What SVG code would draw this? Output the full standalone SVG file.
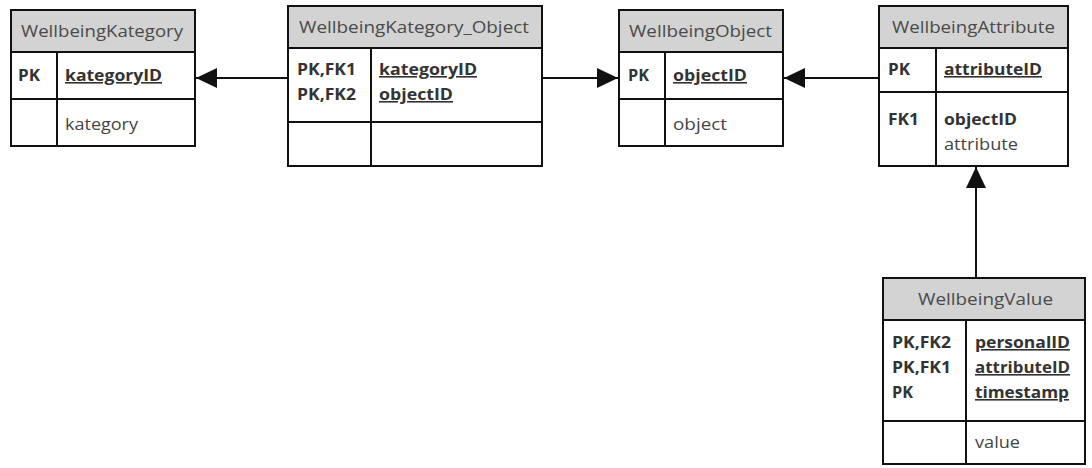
<svg xmlns="http://www.w3.org/2000/svg" width="1092" height="468" viewBox="0 0 1092 468">
  <style>
    .box { fill: #ffffff; stroke: #111111; stroke-width: 2; }
    .head { fill: #d3d3d3; stroke: #111111; stroke-width: 2; }
    .div { stroke: #111111; stroke-width: 2; fill: none; }
    .title { font-family: "Open Sans", "Liberation Sans", sans-serif; font-size: 16px; fill: #4a4a4a; }
    .key { font-family: "Open Sans", "Liberation Sans", sans-serif; font-size: 16px; font-weight: bold; fill: #333333; }
    .pk { font-family: "Open Sans", "Liberation Sans", sans-serif; font-size: 16px; font-weight: bold; fill: #333333; text-decoration: underline; }
    .fld { font-family: "Open Sans", "Liberation Sans", sans-serif; font-size: 16px; fill: #444444; }
    .conn { stroke: #111111; stroke-width: 2; fill: none; marker-end: url(#arrow); }
  </style>
  <defs>
    <marker id="arrow" markerUnits="userSpaceOnUse" markerWidth="22" markerHeight="22" viewBox="0 0 22 22" refX="21" refY="11" orient="auto">
      <path d="M0,1 L21,11 L0,21 Z" fill="#111111"/>
    </marker>
  </defs>

  <rect width="1092" height="468" fill="#ffffff"/>

  <!-- connectors -->
  <g id="connectors">
    <line class="conn" x1="288" y1="78" x2="196" y2="78"/>
    <line class="conn" x1="542" y1="78" x2="618" y2="78"/>
    <line class="conn" x1="879" y1="78" x2="784" y2="78"/>
    <line class="conn" x1="976" y1="278" x2="976" y2="167"/>
  </g>

  <!-- WellbeingKategory -->
  <g id="WellbeingKategory">
    <rect class="box" x="11" y="10" width="184" height="136"/>
    <rect class="head" x="11" y="10" width="184" height="42"/>
    <line class="div" x1="11" y1="99" x2="195" y2="99"/>
    <line class="div" x1="57" y1="52" x2="57" y2="146"/>
    <text class="title" x="21" y="37" textLength="162" lengthAdjust="spacingAndGlyphs">WellbeingKategory</text>
    <text class="key" x="18" y="81" textLength="22" lengthAdjust="spacingAndGlyphs">PK</text>
    <text class="pk" x="65" y="81" textLength="97" lengthAdjust="spacingAndGlyphs">kategoryID</text>
    <text class="fld" x="65" y="130" textLength="73" lengthAdjust="spacingAndGlyphs">kategory</text>
  </g>

  <!-- WellbeingKategory_Object -->
  <g id="WellbeingKategory_Object">
    <rect class="box" x="288" y="6" width="254" height="160"/>
    <rect class="head" x="288" y="6" width="254" height="42"/>
    <line class="div" x1="288" y1="122" x2="542" y2="122"/>
    <line class="div" x1="371" y1="48" x2="371" y2="166"/>
    <text class="title" x="299" y="33" textLength="230" lengthAdjust="spacingAndGlyphs">WellbeingKategory_Object</text>
    <text class="key" x="297" y="75" textLength="59" lengthAdjust="spacingAndGlyphs">PK,FK1</text>
    <text class="key" x="297" y="100" textLength="59" lengthAdjust="spacingAndGlyphs">PK,FK2</text>
    <text class="pk" x="379" y="75" textLength="98" lengthAdjust="spacingAndGlyphs">kategoryID</text>
    <text class="pk" x="379" y="100" textLength="74" lengthAdjust="spacingAndGlyphs">objectID</text>
  </g>

  <!-- WellbeingObject -->
  <g id="WellbeingObject">
    <rect class="box" x="619" y="10" width="164" height="136"/>
    <rect class="head" x="619" y="10" width="164" height="42"/>
    <line class="div" x1="619" y1="99" x2="783" y2="99"/>
    <line class="div" x1="665" y1="52" x2="665" y2="146"/>
    <text class="title" x="629" y="37" textLength="143" lengthAdjust="spacingAndGlyphs">WellbeingObject</text>
    <text class="key" x="628" y="81" textLength="21" lengthAdjust="spacingAndGlyphs">PK</text>
    <text class="pk" x="673" y="81" textLength="74" lengthAdjust="spacingAndGlyphs">objectID</text>
    <text class="fld" x="673" y="130" textLength="54" lengthAdjust="spacingAndGlyphs">object</text>
  </g>

  <!-- WellbeingAttribute -->
  <g id="WellbeingAttribute">
    <rect class="box" x="879" y="6" width="189" height="160"/>
    <rect class="head" x="879" y="6" width="189" height="42"/>
    <line class="div" x1="879" y1="92" x2="1068" y2="92"/>
    <line class="div" x1="936" y1="48" x2="936" y2="166"/>
    <text class="title" x="892" y="33" textLength="163" lengthAdjust="spacingAndGlyphs">WellbeingAttribute</text>
    <text class="key" x="888" y="75" textLength="22" lengthAdjust="spacingAndGlyphs">PK</text>
    <text class="pk" x="944" y="75" textLength="98" lengthAdjust="spacingAndGlyphs">attributeID</text>
    <text class="key" x="888" y="125" textLength="31" lengthAdjust="spacingAndGlyphs">FK1</text>
    <text class="key" x="944" y="125" textLength="73" lengthAdjust="spacingAndGlyphs">objectID</text>
    <text class="fld" x="944" y="150" textLength="74" lengthAdjust="spacingAndGlyphs">attribute</text>
  </g>

  <!-- WellbeingValue -->
  <g id="WellbeingValue">
    <rect class="box" x="883" y="278" width="202" height="186"/>
    <rect class="head" x="883" y="278" width="202" height="42"/>
    <line class="div" x1="883" y1="421" x2="1085" y2="421"/>
    <line class="div" x1="966" y1="320" x2="966" y2="464"/>
    <text class="title" x="918" y="305" textLength="135" lengthAdjust="spacingAndGlyphs">WellbeingValue</text>
    <text class="key" x="892" y="348" textLength="59" lengthAdjust="spacingAndGlyphs">PK,FK2</text>
    <text class="key" x="892" y="373" textLength="59" lengthAdjust="spacingAndGlyphs">PK,FK1</text>
    <text class="key" x="892" y="398" textLength="21" lengthAdjust="spacingAndGlyphs">PK</text>
    <text class="pk" x="975" y="348" textLength="95" lengthAdjust="spacingAndGlyphs">personalID</text>
    <text class="pk" x="975" y="373" textLength="95" lengthAdjust="spacingAndGlyphs">attributeID</text>
    <text class="pk" x="975" y="398" textLength="94" lengthAdjust="spacingAndGlyphs">timestamp</text>
    <text class="fld" x="975" y="448" textLength="45" lengthAdjust="spacingAndGlyphs">value</text>
  </g>
</svg>
